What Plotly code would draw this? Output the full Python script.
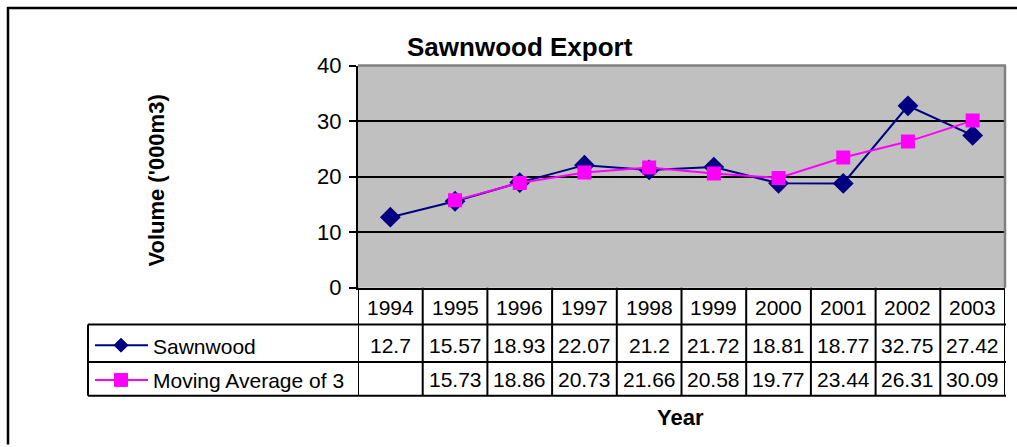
import plotly.graph_objects as go

years = ["1994", "1995", "1996", "1997", "1998", "1999", "2000", "2001", "2002", "2003"]
sawnwood = [12.7, 15.57, 18.93, 22.07, 21.2, 21.72, 18.81, 18.77, 32.75, 27.42]
moving_avg = [None, 15.73, 18.86, 20.73, 21.66, 20.58, 19.77, 23.44, 26.31, 30.09]
series_names = ["Sawnwood", "Moving Average of 3"]

W, H = 1017, 447
# observed vertical mapping of paper coordinates in the rendered page
TOP, HE = 11.0, 425.5
PL, PR, PT, PB = 358, 1005, 65, 289
NAVY = "#000080"
MAG = "#FF00FF"
FONT = "Liberation Sans, Arial, sans-serif"


def PX(x):
    return x / W


def PY(y):
    return 1 - (y - TOP) / HE


fig = go.Figure()
fig.add_trace(go.Scatter(x=years, y=sawnwood, mode="lines+markers", name=series_names[0],
                         line=dict(color=NAVY, width=2),
                         marker=dict(symbol="diamond", size=16, color=NAVY)))
fig.add_trace(go.Scatter(x=years, y=moving_avg, mode="lines+markers", name=series_names[1],
                         line=dict(color=MAG, width=2),
                         marker=dict(symbol="square", size=14, color=MAG)))

shapes = []
# outer frame (top and left edges visible)
shapes.append(dict(type="line", xref="paper", yref="paper", x0=PX(7), x1=PX(1017), y0=PY(7), y1=PY(7),
                   line=dict(color="black", width=2.5)))
shapes.append(dict(type="line", xref="paper", yref="paper", x0=PX(8), x1=PX(8), y0=PY(6), y1=PY(447),
                   line=dict(color="black", width=2.5)))
# plot area top/right border (gray)
shapes.append(dict(type="line", xref="paper", yref="paper", x0=PX(PL), x1=PX(PR + 1), y0=PY(PT), y1=PY(PT),
                   line=dict(color="#808080", width=2.5)))
shapes.append(dict(type="line", xref="paper", yref="paper", x0=PX(PR), x1=PX(PR), y0=PY(PT), y1=PY(PB),
                   line=dict(color="#808080", width=2.5)))

# table rows
r1, r2, r3 = 326, 364, 398
for yy in (r1, r2, r3):
    shapes.append(dict(type="line", xref="paper", yref="paper", x0=PX(88), x1=PX(PR + 1), y0=PY(yy), y1=PY(yy),
                       line=dict(color="black", width=2)))
shapes.append(dict(type="line", xref="paper", yref="paper", x0=PX(88), x1=PX(88), y0=PY(r1), y1=PY(r3),
                   line=dict(color="black", width=2)))
for i in range(len(years) + 1):
    shapes.append(dict(type="line", xref="x", yref="paper", x0=i - 0.5, x1=i - 0.5, y0=PY(PB), y1=PY(r3),
                       line=dict(color="black", width=2)))

# legend keys
lx0, lx1, lxc = 95, 148, 121
ly2, ly3 = 347, 382
shapes.append(dict(type="line", xref="paper", yref="paper", x0=PX(lx0), x1=PX(lx1), y0=PY(ly2), y1=PY(ly2),
                   line=dict(color=NAVY, width=2)))
d = 7
shapes.append(dict(type="path", xref="paper", yref="paper",
                   path=f"M {PX(lxc)},{PY(ly2 - d)} L {PX(lxc + d)},{PY(ly2)} L {PX(lxc)},{PY(ly2 + d)} L {PX(lxc - d)},{PY(ly2)} Z",
                   fillcolor=NAVY, line=dict(color=NAVY, width=1)))
shapes.append(dict(type="line", xref="paper", yref="paper", x0=PX(lx0), x1=PX(lx1), y0=PY(ly3), y1=PY(ly3),
                   line=dict(color=MAG, width=2)))
s = 6.5
shapes.append(dict(type="rect", xref="paper", yref="paper", x0=PX(lxc - s), x1=PX(lxc + s),
                   y0=PY(ly3 - s), y1=PY(ly3 + s), fillcolor=MAG, line=dict(color=MAG, width=1)))

annotations = []
TF = dict(family=FONT, size=21, color="black")
for i, yr in enumerate(years):
    annotations.append(dict(x=i, y=PY((PB + r1) / 2 + 1), xref="x", yref="paper", text=yr, showarrow=False,
                            font=TF, xanchor="center", yanchor="middle"))
    annotations.append(dict(x=i, y=PY((r1 + r2) / 2 + 2), xref="x", yref="paper", text=f"{sawnwood[i]:g}",
                            showarrow=False, font=TF, xanchor="center", yanchor="middle"))
    if moving_avg[i] is not None:
        annotations.append(dict(x=i, y=PY((r2 + r3) / 2 + 1), xref="x", yref="paper", text=f"{moving_avg[i]:g}",
                                showarrow=False, font=TF, xanchor="center", yanchor="middle"))
annotations.append(dict(x=PX(151), y=PY((r1 + r2) / 2 + 3), xref="paper", yref="paper", text=series_names[0],
                        showarrow=False, font=TF, xanchor="left", yanchor="middle"))
annotations.append(dict(x=PX(151), y=PY((r2 + r3) / 2 + 2), xref="paper", yref="paper", text=series_names[1],
                        showarrow=False, font=TF, xanchor="left", yanchor="middle"))
# titles
annotations.append(dict(x=PX(520), y=PY(46), xref="paper", yref="paper", text="<b>Sawnwood Export</b>",
                        showarrow=False, font=dict(family=FONT, size=26, color="black"),
                        xanchor="center", yanchor="middle"))
annotations.append(dict(x=PX(157), y=PY(181), xref="paper", yref="paper", text="<b>Volume ('000m3)</b>",
                        showarrow=False, textangle=-90, font=dict(family=FONT, size=22, color="black"),
                        xanchor="center", yanchor="middle"))
annotations.append(dict(x=PX(680), y=PY(420), xref="paper", yref="paper", text="<b>Year</b>",
                        showarrow=False, font=dict(family=FONT, size=22, color="black"),
                        xanchor="center", yanchor="middle"))

fig.update_layout(
    width=W, height=H,
    margin=dict(l=0, r=0, t=0, b=0, pad=0),
    autosize=False,
    paper_bgcolor="white",
    plot_bgcolor="#C0C0C0",
    showlegend=False,
    shapes=shapes,
    annotations=annotations,
    xaxis=dict(domain=[PX(PL), PX(PR)], type="category", range=[-0.5, len(years) - 0.5],
               showticklabels=False, ticks="", showgrid=False, zeroline=False,
               showline=True, linecolor="black", linewidth=2, fixedrange=True),
    yaxis=dict(domain=[PY(PB), PY(PT)], range=[0, 40], dtick=10, tickmode="linear", tick0=0,
               showgrid=True, gridcolor="black", gridwidth=1.5, zeroline=False,
               showline=True, linecolor="black", linewidth=2,
               ticks="outside", ticklen=7, tickwidth=2, tickcolor="black", ticklabelstandoff=3,
               tickfont=dict(family=FONT, size=22, color="black"), fixedrange=True),
)

fig.write_html("out.html", config={"displayModeBar": False},
               post_script="document.body.style.margin='0';document.body.style.overflow='hidden';")
